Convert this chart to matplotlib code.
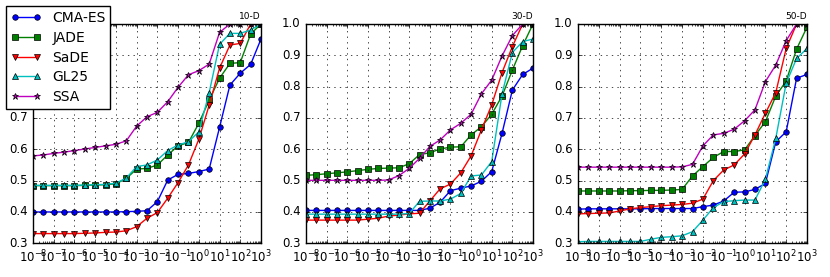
import matplotlib
matplotlib.use("Agg")
import matplotlib.pyplot as plt
import numpy as np

plt.style.use("classic")
plt.rcParams["mathtext.fontset"] = "dejavusans"

x_exp = [-8 + 0.5 * k for k in range(23)]
x_vals = [10.0 ** e for e in x_exp]

names = ["CMA-ES", "JADE", "SaDE", "GL25", "SSA"]
titles = ["10-D", "30-D", "50-D"]

# 10-D
cma_10 = [0.40, 0.40, 0.40, 0.40, 0.40, 0.40, 0.40, 0.40, 0.40, 0.401, 0.402, 0.404,
          0.433, 0.502, 0.520, 0.523, 0.529, 0.537, 0.670, 0.805, 0.843, 0.871, 0.952]
jade_10 = [0.484, 0.484, 0.484, 0.484, 0.484, 0.485, 0.486, 0.487, 0.490, 0.507, 0.537, 0.539,
           0.550, 0.582, 0.611, 0.622, 0.683, 0.757, 0.827, 0.874, 0.877, 0.968, 1.0]
sade_10 = [0.331, 0.331, 0.331, 0.331, 0.331, 0.332, 0.333, 0.335, 0.336, 0.340, 0.353, 0.380,
           0.398, 0.444, 0.494, 0.550, 0.632, 0.741, 0.859, 0.933, 0.938, 1.0, 1.0]
gl25_10 = [0.485, 0.485, 0.485, 0.485, 0.485, 0.486, 0.487, 0.488, 0.492, 0.508, 0.545, 0.550,
           0.566, 0.596, 0.614, 0.624, 0.656, 0.781, 0.935, 0.970, 0.970, 0.981, 1.0]
ssa_10 = [0.579, 0.582, 0.587, 0.591, 0.596, 0.601, 0.606, 0.611, 0.616, 0.627, 0.674, 0.704,
          0.718, 0.752, 0.798, 0.838, 0.851, 0.872, 0.973, 1.0, 1.0, 1.0, 1.0]

# 30-D
cma_30 = [0.405, 0.405, 0.405, 0.405, 0.405, 0.405, 0.405, 0.405, 0.405, 0.405, 0.405, 0.405,
          0.412, 0.431, 0.468, 0.476, 0.483, 0.498, 0.529, 0.651, 0.789, 0.839, 0.859]
jade_30 = [0.517, 0.519, 0.522, 0.525, 0.528, 0.532, 0.536, 0.539, 0.540, 0.541, 0.554, 0.583,
           0.589, 0.601, 0.607, 0.608, 0.646, 0.672, 0.712, 0.770, 0.853, 0.931, 1.0]
sade_30 = [0.374, 0.374, 0.374, 0.374, 0.374, 0.374, 0.377, 0.380, 0.387, 0.390, 0.394, 0.396,
           0.435, 0.474, 0.489, 0.525, 0.579, 0.662, 0.742, 0.845, 0.928, 1.0, 1.0]
gl25_30 = [0.393, 0.393, 0.393, 0.393, 0.393, 0.393, 0.393, 0.393, 0.393, 0.393, 0.395, 0.434,
           0.435, 0.435, 0.441, 0.459, 0.515, 0.518, 0.561, 0.777, 0.909, 0.944, 0.952]
ssa_30 = [0.501, 0.501, 0.501, 0.501, 0.501, 0.501, 0.501, 0.501, 0.502, 0.516, 0.539, 0.571,
          0.609, 0.630, 0.662, 0.683, 0.712, 0.777, 0.821, 0.898, 0.963, 1.0, 1.0]

# 50-D
cma_50 = [0.409, 0.410, 0.410, 0.410, 0.410, 0.410, 0.410, 0.411, 0.411, 0.411, 0.411, 0.411,
          0.417, 0.422, 0.435, 0.463, 0.464, 0.472, 0.491, 0.624, 0.656, 0.827, 0.839]
jade_50 = [0.467, 0.467, 0.467, 0.467, 0.467, 0.468, 0.468, 0.469, 0.469, 0.470, 0.472, 0.515,
           0.545, 0.574, 0.593, 0.593, 0.598, 0.644, 0.688, 0.770, 0.818, 0.920, 0.99]
sade_50 = [0.394, 0.395, 0.396, 0.397, 0.403, 0.410, 0.414, 0.417, 0.420, 0.422, 0.424, 0.428,
           0.441, 0.500, 0.534, 0.550, 0.585, 0.646, 0.715, 0.781, 0.922, 1.0, 1.0]
gl25_50 = [0.305, 0.306, 0.306, 0.306, 0.306, 0.306, 0.306, 0.313, 0.319, 0.321, 0.324, 0.337,
           0.374, 0.414, 0.433, 0.436, 0.438, 0.438, 0.504, 0.635, 0.811, 0.890, 0.922]
ssa_50 = [0.543, 0.543, 0.543, 0.543, 0.543, 0.543, 0.543, 0.543, 0.543, 0.543, 0.544, 0.552,
          0.611, 0.646, 0.651, 0.664, 0.691, 0.726, 0.816, 0.869, 0.947, 1.0, 1.0]

panels = [
    [cma_10, jade_10, sade_10, gl25_10, ssa_10],
    [cma_30, jade_30, sade_30, gl25_30, ssa_30],
    [cma_50, jade_50, sade_50, gl25_50, ssa_50],
]

styles = [("b", "o"), ("g", "s"), ("r", "v"), ("c", "^"), ("m", "*")]

fig = plt.figure(figsize=(8.3, 2.77), dpi=100, facecolor="white")
lefts = [33 / 830, 306 / 830, 578 / 830]
widths = [228 / 830, 227 / 830, 229 / 830]
bottom = (277 - 243.3) / 277
height = (243.3 - 24) / 277

handles = []
for i, series in enumerate(panels):
    ax = fig.add_axes([lefts[i], bottom, widths[i], height])
    for j, ys in enumerate(series):
        c, m = styles[j]
        ms = 5 if m == "*" else 4
        h, = ax.plot(x_vals, ys, color=c, marker=m, markersize=ms, lw=1.0,
                     markeredgecolor="black", markeredgewidth=0.5, label=names[j])
        if i == 0:
            handles.append(h)
    ax.set_xscale("log")
    ax.set_xlim(1e-8, 1e3)
    ax.set_ylim(0.3, 1.0)
    ax.set_xticks([10.0 ** e for e in range(-8, 4)])
    ax.set_yticks([0.3, 0.4, 0.5, 0.6, 0.7, 0.8, 0.9, 1.0])
    ax.set_yticklabels(["0.3", "0.4", "0.5", "0.6", "0.7", "0.8", "0.9", "1.0"])
    ax.grid(True, which="major", linestyle=":", color="black", lw=0.5)
    ax.tick_params(labelsize=8.5, direction="in", length=3, pad=4)
    ax.tick_params(which="minor", length=1.5)
    ax.set_title(titles[i], loc="right", fontsize=6.5, pad=3.5)
    ax.set_facecolor("white")

fig.legend(handles=handles, labels=names, loc="upper left",
           bbox_to_anchor=(6 / 830, 1 - 6 / 277), fontsize=10, numpoints=2,
           fancybox=False, framealpha=1, edgecolor="black",
           labelspacing=0.42, handlelength=2.2, handletextpad=0.78,
           borderpad=0.35, borderaxespad=0.0)

fig.savefig("out.png", dpi=100, facecolor="white")
